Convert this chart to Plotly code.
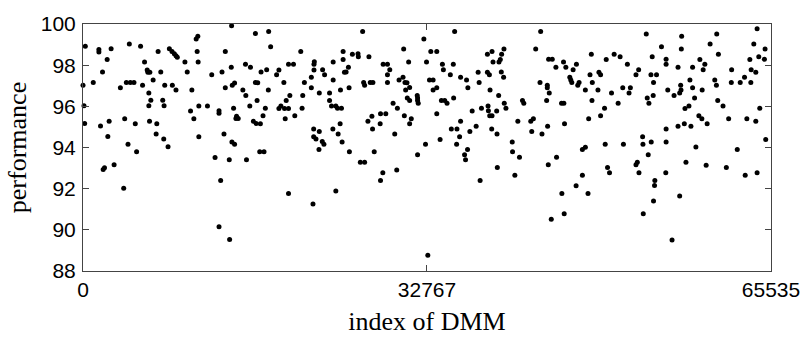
import plotly.graph_objects as go

# index of DMM (x) and performance (y)
dmm_index = [
    # 0 - 11000
    220, 1513, 1513, 2679, 4412, 5484, 2301, 1859, 0, 977, 3561, 4129, 4507, 4854,
    5673, 5862, 6115, 6178, 6367, 6682, 7155, 7407, 8226, 8479, 8699, 8857, 8983,
    9708, 9928, 10780, 10937, 10874, 10969, 7785, 8510, 8857, 6272, 6461, 6272,
    7596, 7722, 10370, 11032, 10244, 10559, 11032, 94, 157, 1670, 2490, 2364, 3971,
    4980, 6335, 7029, 6966, 7691, 8101, 4286, 5106, 1922, 2048, 2962, 3877,
    # 11000 - 22400
    14154, 16423, 17684, 17873, 13555, 20742, 15478, 15951, 14122, 13240, 12263,
    16959, 17495, 18661, 18441, 19575, 20048, 22034, 22002, 22002, 21750, 19134,
    21088, 21750, 16423, 16644, 14217, 14438, 13555, 15226, 15509, 17653, 19701,
    19355, 20931, 16581, 15887, 14343, 17369, 18661, 18850, 19197, 19575, 20868,
    11853, 12956, 12956, 14627, 14564, 14784, 17148, 19260, 20174, 16234, 16486,
    16896, 13429, 14185, 14438, 12578, 13933, 15572, 16833, 17243, 13114, 19575,
    21908, 12956, 13965, 21971, 21971, 22192,
    # 22400 - 33800
    26637, 32468, 30545, 24777, 33130, 33697, 25660, 26195, 26227, 27236, 24777,
    23831, 31018, 32720, 28591, 29001, 25281, 22823, 29221, 25061, 24903, 23012,
    29001, 23831, 30104, 30482, 33004, 33350, 26731, 26826, 27361, 27614, 29001,
    30671, 30860, 25344, 33697, 24525, 30734, 31113, 33350, 22508, 23485, 31838,
    30892, 31869, 23485, 31113, 31869, 29537, 31932, 23674, 24084, 24241, 24619,
    29946, 28339, 28843, 33697, 27519, 30608, 31270, 27141, 24493, 28307, 31113,
    23800, 27582, 22508, 24304, 29694, 22791, 22949, 24682, 32625, 22476, 25376,
    27740, 31869, 26416, 26826, 29883, 28559, 28339, 24084, 32846,
    # 33800 - 45100
    35400, 43595, 43122, 38521, 38962, 39056, 39624, 39750, 39876, 40097, 44352,
    44698, 34234, 35274, 34328, 45045, 34990, 35967, 36535, 37638, 38521, 38710,
    39844, 40065, 37733, 43532, 44226, 44226, 44415, 36661, 38773, 39592, 34139,
    34454, 34675, 35305, 41862, 41988, 44163, 40128, 40286, 37953, 38584, 38615,
    38741, 38962, 39403, 37071, 42650, 42902, 41420, 35967, 37449, 35085, 35621,
    38930, 36850, 42744, 43721, 39435, 44257, 35873, 34013, 35589, 40885, 36629,
    36346, 36440, 40916, 41578, 45108, 39466, 44320, 41137, 37827, 44604,
    # 45100 - 56400
    53652, 55102, 48420, 50594, 51162, 54219, 55543, 55543, 49838, 45772, 45993,
    46686, 47001, 51855, 52927, 52675, 48294, 49145, 49302, 54099, 54629, 46371,
    46465, 46560, 47127, 47253, 48514, 54345, 47852, 49050, 51414, 52139, 52013,
    50342, 55701, 56300, 54314, 53746, 53904, 48483, 45583, 45803, 50973, 49680,
    49302, 48167, 45866, 55543, 53305, 53337, 54125, 55543, 49743, 51477, 47569,
    47852, 53841, 52801, 52675, 49964, 50153, 52959, 55512, 47569, 54471, 54440,
    46970, 45614, 48104, 54345, 45835, 53368, 56110,
    # 56400 - 65535
    64212, 60366, 57025, 63897, 59736, 56994, 64968, 60524, 64370, 64905, 63518,
    58759, 56679, 58066, 59232, 59074, 61785, 63645, 64086, 60177, 60335, 56931,
    56962, 56836, 57813, 58066, 58980, 61753, 62604, 63014, 63613, 58255, 60461,
    60965, 57719, 57341, 64464, 58664, 58948, 61501, 63235, 64086, 56679, 57278,
    57908, 59452, 65031, 58381, 62321, 57435, 59358, 61281, 63077, 64212, 56836,
]

performance = [
    98.92, 98.76, 98.64, 98.80, 99.03, 98.92, 98.27, 97.67, 97.02, 97.16, 96.90,
    97.16, 97.16, 97.16, 97.03, 98.15, 97.76, 97.65, 97.65, 97.28, 98.66, 97.67,
    98.80, 98.67, 98.56, 98.46, 98.39, 98.15, 97.67, 99.27, 99.41, 98.66, 98.15,
    97.03, 97.03, 96.79, 96.65, 96.29, 96.03, 96.29, 96.03, 96.79, 96.02, 95.77,
    95.40, 94.52, 96.03, 95.17, 95.04, 95.27, 94.53, 95.40, 95.15, 95.27, 95.15,
    94.66, 94.41, 94.04, 94.16, 93.79, 92.93, 93.02, 93.16, 92.02,
    99.91, 99.54, 99.64, 98.90, 98.66, 98.66, 98.04, 97.90, 97.90, 97.67, 97.53,
    97.67, 97.78, 97.76, 97.53, 98.04, 98.04, 98.16, 98.04, 97.76, 97.41, 97.16,
    97.16, 96.90, 97.16, 97.14, 97.02, 97.13, 96.90, 96.79, 96.53, 96.79, 96.53,
    96.28, 96.53, 96.28, 96.02, 95.91, 95.91, 95.89, 96.02, 95.89, 95.89, 95.91,
    96.02, 95.78, 95.66, 95.52, 95.41, 95.41, 95.54, 95.40, 95.54, 95.27, 95.17,
    95.15, 94.66, 94.27, 94.16, 93.51, 93.41, 93.41, 93.79, 93.79, 92.40, 91.77,
    91.26, 90.15, 89.53, 94.90, 94.52, 94.41,
    99.64, 99.27, 98.78, 98.66, 98.66, 98.66, 98.53, 98.55, 98.41, 98.41, 98.27,
    98.15, 98.15, 98.15, 98.04, 98.04, 97.90, 97.78, 97.78, 97.67, 97.65, 97.53,
    97.53, 97.28, 97.28, 97.41, 97.28, 97.28, 97.16, 97.02, 97.16, 97.16, 97.16,
    97.16, 97.14, 96.90, 96.90, 96.79, 96.79, 96.91, 96.79, 96.65, 96.65, 96.53,
    96.40, 96.40, 96.28, 96.28, 96.28, 96.15, 96.15, 96.02, 96.02, 95.91, 95.91,
    95.91, 95.64, 95.64, 95.64, 95.52, 95.54, 95.40, 95.27, 95.15, 95.15, 95.15,
    94.90, 94.90, 94.78, 94.66, 94.66, 94.29, 94.16, 94.27, 94.16, 93.90, 93.79,
    93.79, 93.65, 93.28, 93.28, 92.91, 92.77, 92.40, 91.89, 88.77,
    99.64, 99.64, 98.78, 98.53, 98.66, 98.15, 98.15, 98.27, 98.53, 98.78, 98.29,
    98.29, 98.04, 98.04, 97.78, 97.90, 97.53, 97.41, 97.28, 97.65, 97.65, 97.53,
    97.67, 97.41, 97.16, 97.16, 97.02, 96.90, 96.65, 96.90, 96.79, 96.53, 96.28,
    96.28, 96.15, 96.40, 96.28, 96.15, 96.28, 96.15, 95.91, 95.91, 96.02, 95.78,
    95.54, 95.54, 95.77, 95.77, 95.27, 95.40, 95.27, 95.27, 95.03, 94.90, 94.90,
    94.90, 94.78, 94.78, 94.66, 94.66, 95.03, 94.52, 94.39, 94.16, 94.27, 93.90,
    93.65, 93.41, 93.79, 93.53, 93.53, 93.03, 93.16, 92.65, 92.40, 90.52,
    99.52, 98.90, 98.53, 98.53, 98.41, 98.41, 98.29, 98.04, 98.27, 98.15, 97.90,
    97.78, 98.04, 98.04, 97.78, 97.53, 97.53, 97.65, 97.53, 97.53, 97.53, 97.41,
    97.28, 97.16, 97.03, 97.16, 97.16, 97.16, 96.79, 96.79, 96.90, 96.90, 96.65,
    96.65, 96.79, 96.53, 96.53, 96.40, 96.15, 96.28, 96.15, 96.15, 96.15, 95.91,
    95.54, 95.40, 95.15, 94.90, 94.52, 94.16, 94.27, 94.27, 94.16, 94.16, 93.90,
    94.01, 93.65, 93.28, 93.16, 93.03, 92.77, 92.77, 92.77, 92.65, 92.40, 92.15,
    92.14, 91.77, 91.77, 91.40, 90.78, 90.78, 89.51,
    99.77, 99.52, 99.40, 99.03, 99.03, 98.78, 98.78, 98.53, 98.41, 98.29, 98.27,
    98.27, 97.90, 97.90, 98.04, 97.78, 97.78, 97.78, 97.65, 97.28, 97.02, 97.02,
    96.79, 96.65, 97.28, 96.90, 96.79, 97.16, 97.16, 97.41, 97.16, 96.40, 96.28,
    96.02, 96.02, 95.89, 95.91, 95.54, 95.40, 95.40, 95.40, 95.27, 95.03, 95.15,
    95.03, 95.15, 94.39, 94.02, 93.90, 93.28, 93.14, 93.03, 92.65, 92.77, 91.64,
]

x_ticks = [0, 32767, 65535]
y_ticks = [88, 90, 92, 94, 96, 98, 100]

fig = go.Figure(
    go.Scatter(
        x=dmm_index,
        y=performance,
        mode="markers",
        marker=dict(color="black", size=5, line=dict(width=0)),
        cliponaxis=False,
        hoverinfo="x+y",
    )
)

axis_common = dict(
    showgrid=False,
    zeroline=False,
    showline=True,
    linecolor="#444444",
    linewidth=1,
    mirror="ticks",
    ticks="inside",
    ticklen=6,
    tickwidth=1,
    tickcolor="#444444",
    tickfont=dict(family="Liberation Sans, Arial, sans-serif", size=21, color="black"),
)

fig.update_layout(
    width=812,
    height=342,
    margin=dict(l=83, r=36, t=13, b=71),
    paper_bgcolor="white",
    plot_bgcolor="white",
    showlegend=False,
    xaxis=dict(
        range=[0, 65535],
        tickvals=x_ticks,
        ticktext=[str(v) for v in x_ticks],
        title=dict(
            text="index of DMM",
            font=dict(family="Liberation Serif, Times New Roman, serif", size=26, color="black"),
            standoff=11,
        ),
        **axis_common,
    ),
    yaxis=dict(
        range=[88, 100],
        tickvals=y_ticks,
        ticktext=[str(v) for v in y_ticks],
        title=dict(
            text="performance",
            font=dict(family="Liberation Serif, Times New Roman, serif", size=26, color="black"),
            standoff=6,
        ),
        ticklabelstandoff=2,
        **axis_common,
    ),
)

fig.write_html("out.html")
